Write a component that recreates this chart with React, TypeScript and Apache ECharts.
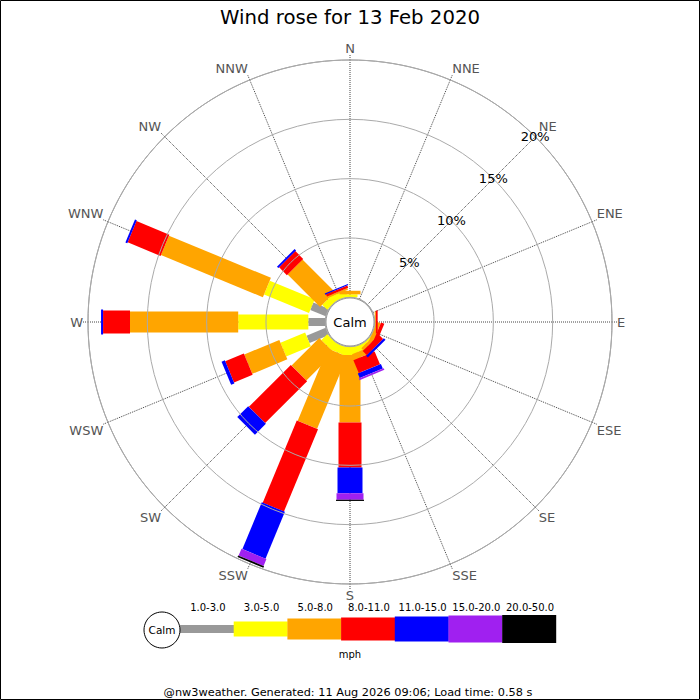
import React, { useEffect, useRef } from "react";
import * as echarts from "echarts";

const DIRECTIONS = ["N", "NNE", "NE", "ENE", "E", "ESE", "SE", "SSE", "S", "SSW", "SW", "WSW", "W", "WNW", "NW", "NNW"];
const SPEED_BINS = ["1.0-3.0", "3.0-5.0", "5.0-8.0", "8.0-11.0", "11.0-15.0", "15.0-20.0", "20.0-50.0"];
const BIN_COLORS = ["#999999", "#ffff00", "#ffa500", "#ff0000", "#0000ff", "#a020f0", "#000000"];
const BIN_WIDTHS = [8, 15, 21, 23, 25, 27, 28];

// % frequency per direction (N .. NNW) for each speed bin (mph)
const BIN_1_3 = [0, 0, 0, 0, 0, 0, 0, 0, 0, 0, 0, 1.75, 1.43, 1.4, 0, 0];
const BIN_3_5 = [0.25, 0, 0, 0, 0, 0, 0.15, 0.5, 0.7, 0.7, 0.7, 2.25, 5.91, 4.1, 0.6, 0.5];
const BIN_5_8 = [0.3, 0, 0, 0, 0.1, 0.35, 0.25, 0.5, 5.69, 6.6, 3.3, 3.2, 9.12, 9.3, 3.87, 0.15];
const BIN_8_11 = [0, 0, 0, 0, 0.15, 0.3, 0.5, 1.18, 3.79, 7.5, 5.0, 1.7, 2.27, 3.0, 0.93, 0.2];
const BIN_11_15 = [0, 0, 0, 0, 0, 0, 0.2, 0.42, 2.17, 4.27, 1.3, 0.3, 0.17, 0.17, 0.17, 0.1];
const BIN_15_20 = [0, 0, 0, 0, 0, 0, 0, 0.15, 0.55, 0.63, 0, 0, 0, 0, 0, 0];
const BIN_20_50 = [0, 0, 0, 0, 0, 0, 0, 0, 0.1, 0.15, 0, 0, 0, 0, 0, 0];

const RADIUS_TICKS = [5, 10, 15, 20];
const TITLE = "Wind rose for 13 Feb 2020";
const UNIT = "mph";
const FOOTER = "@nw3weather. Generated: 11 Aug 2026 09:06; Load time: 0.58 s";
const CALM = "Calm";

const FONT = "DejaVu Sans";
const START_ANGLE = 45; // radius labels along NE

// compass degrees -> angle-axis value (axis value 0 sits at NE)
const toAxisAngle = (i: number) => (i * 22.5 - START_ANGLE + 360) % 360;

export default function App() {
  const ref = useRef<HTMLDivElement>(null);

  useEffect(() => {
    if (!ref.current) return;
    const chart = echarts.init(ref.current, undefined, { renderer: "svg" });
    const bins = [BIN_1_3, BIN_3_5, BIN_5_8, BIN_8_11, BIN_11_15, BIN_15_20, BIN_20_50];

    const series = bins.map((vals, b) => {
      const data: number[][] = [];
      DIRECTIONS.forEach((_d, i) => {
        let start = 0;
        for (let k = 0; k < b; k++) start += bins[k][i];
        const v = vals[i];
        if (v > 0) data.push([start, toAxisAngle(i), start + v]);
      });
      return {
        type: "custom",
        name: SPEED_BINS[b],
        coordinateSystem: "polar",
        silent: true,
        z: 2,
        data,
        renderItem: (_params: any, api: any) => {
          const r0 = api.value(0);
          const a = api.value(1);
          const r1 = api.value(2);
          const p0 = api.coord([r0, a]);
          const p1 = api.coord([r1, a]);
          const q0 = api.coord([0, a]);
          const q1 = api.coord([20, a]);
          let ux = q1[0] - q0[0];
          let uy = q1[1] - q0[1];
          const len = Math.hypot(ux, uy) || 1;
          ux /= len;
          uy /= len;
          const hw = BIN_WIDTHS[b] / 2;
          const nx = -uy * hw;
          const ny = ux * hw;
          return {
            type: "polygon",
            shape: {
              points: [
                [p0[0] + nx, p0[1] + ny],
                [p1[0] + nx, p1[1] + ny],
                [p1[0] - nx, p1[1] - ny],
                [p0[0] - nx, p0[1] - ny],
              ],
            },
            style: { fill: BIN_COLORS[b], stroke: null },
          };
        },
      };
    });

    // legend graphics
    const legendX0 = 180;
    const segW = 53.7;
    const legendY = 629;
    const legendEls: any[] = [];
    SPEED_BINS.forEach((label, b) => {
      const x = legendX0 + b * segW;
      legendEls.push({
        type: "rect",
        shape: { x, y: legendY - BIN_WIDTHS[b] / 2, width: segW + 0.3, height: BIN_WIDTHS[b] },
        style: { fill: BIN_COLORS[b] },
        z: 10,
      });
      legendEls.push({
        type: "text",
        x: x + segW / 2 + 1,
        y: 607,
        style: {
          text: label,
          font: `10px "${FONT}"`,
          fill: "#000",
          align: "center",
          verticalAlign: "middle",
          textAlign: "center",
          textVerticalAlign: "middle",
        },
        z: 10,
      });
    });

    const option: any = {
      animation: false,
      backgroundColor: "#ffffff",
      title: {
        text: TITLE,
        left: "center",
        top: 7,
        padding: 0,
        textStyle: { fontFamily: FONT, fontSize: 19.7, fontWeight: "normal", color: "#000" },
      },
      polar: { center: [350, 322], radius: [24.7, 262] },
      angleAxis: {
        type: "value",
        min: 0,
        max: 360,
        interval: 22.5,
        startAngle: START_ANGLE,
        clockwise: true,
        axisLine: { show: true, lineStyle: { color: "#999", width: 1 } },
        axisTick: { show: true, length: 5, lineStyle: { color: "#444", type: "dotted" } },
        axisLabel: {
          show: true,
          margin: 5,
          color: "#555",
          fontFamily: FONT,
          fontSize: 13,
          align: "center",
          verticalAlign: "middle",
          formatter: (v: number) => DIRECTIONS[Math.round(((v + START_ANGLE) % 360) / 22.5) % 16],
        },
        splitLine: { show: true, lineStyle: { color: "#444", type: "dotted", width: 1 } },
      },
      radiusAxis: {
        type: "value",
        min: 0,
        max: 20,
        interval: 5,
        axisLine: { show: false },
        axisTick: { show: false },
        axisLabel: {
          show: true,
          margin: 0,
          color: "#000",
          fontFamily: FONT,
          fontSize: 13,
          align: "center",
          verticalAlign: "middle",
          formatter: (v: number) => (RADIUS_TICKS.includes(v) ? `${v}%` : ""),
        },
        splitLine: { show: true, lineStyle: { color: "#aaa", width: 1, type: "solid" } },
        z: 5,
      },
      series,
      graphic: [
        {
          type: "circle",
          shape: { cx: 350, cy: 322, r: 24 },
          style: { fill: "#fff", stroke: "#999", lineWidth: 1 },
          z: 20,
        },
        {
          type: "text",
          x: 350,
          y: 322,
          style: {
            text: CALM,
            font: `13px "${FONT}"`,
            fill: "#000",
            align: "center",
            verticalAlign: "middle",
            textAlign: "center",
            textVerticalAlign: "middle",
          },
          z: 21,
        },
        ...legendEls,
        {
          type: "circle",
          shape: { cx: 162, cy: 630, r: 18 },
          style: { fill: "#fff", stroke: "#000", lineWidth: 1 },
          z: 11,
        },
        {
          type: "text",
          x: 162,
          y: 630,
          style: {
            text: CALM,
            font: `10.5px "${FONT}"`,
            fill: "#000",
            align: "center",
            verticalAlign: "middle",
            textAlign: "center",
            textVerticalAlign: "middle",
          },
          z: 12,
        },
        {
          type: "text",
          x: 350,
          y: 654,
          style: {
            text: UNIT,
            font: `10px "${FONT}"`,
            fill: "#000",
            align: "center",
            verticalAlign: "middle",
            textAlign: "center",
            textVerticalAlign: "middle",
          },
          z: 10,
        },
        {
          type: "text",
          x: 348,
          y: 692,
          style: {
            text: FOOTER,
            font: `11.3px "${FONT}"`,
            fill: "#000",
            align: "center",
            verticalAlign: "middle",
            textAlign: "center",
            textVerticalAlign: "middle",
          },
          z: 10,
        },
        {
          type: "rect",
          shape: { x: 0.5, y: 0.5, width: 699, height: 699 },
          style: { fill: "none", stroke: "#000", lineWidth: 1 },
          z: 30,
        },
      ],
    };

    chart.setOption(option);
    return () => chart.dispose();
  }, []);

  return (
    <div
      ref={ref}
      style={{ position: "fixed", left: 0, top: 0, width: 700, height: 700, background: "#fff" }}
    />
  );
}
